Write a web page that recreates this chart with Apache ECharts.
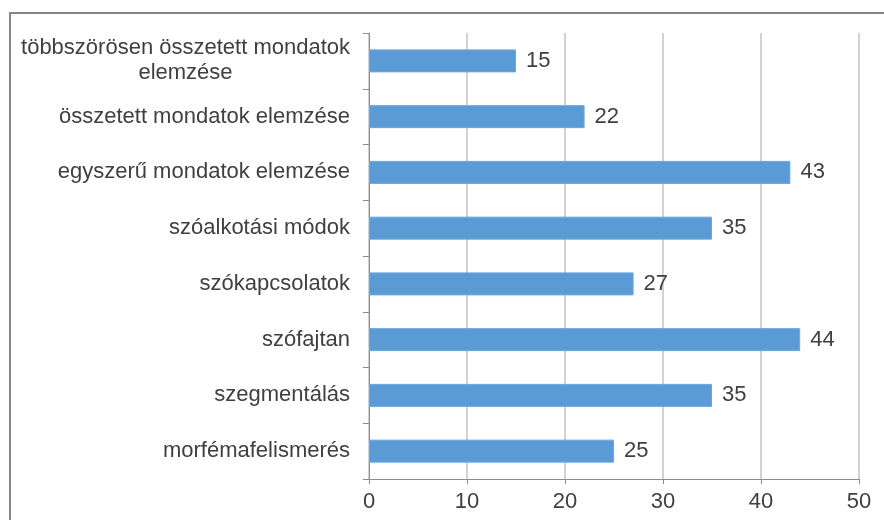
<!DOCTYPE html>
<html>
<head>
<meta charset="utf-8">
<script src="https://cdn.jsdelivr.net/npm/echarts@6/dist/echarts.min.js"></script>
<style>html,body{margin:0;padding:0;background:#fff;}#c{width:884px;height:520px;}</style>
</head>
<body>
<div id="c"></div>
<script>
// Categories bottom-to-top (ECharts category axis draws first item at bottom)
const categories = [
  "morfémafelismerés",
  "szegmentálás",
  "szófajtan",
  "szókapcsolatok",
  "szóalkotási módok",
  "egyszerű mondatok elemzése",
  "összetett mondatok elemzése",
  "többszörösen összetett mondatok\nelemzése"
];
const values = [25, 35, 44, 27, 35, 43, 22, 15];
const xTicks = [0, 10, 20, 30, 40, 50];

const chart = echarts.init(document.getElementById('c'), null, {renderer: 'canvas'});
const FONT = '"Liberation Sans", Arial, sans-serif';
chart.setOption({
  backgroundColor: '#ffffff',
  animation: false,
  graphic: [{
    type: 'rect',
    shape: {x: 10, y: 13, width: 900, height: 560},
    style: {fill: 'none', stroke: '#858585', lineWidth: 2},
    silent: true
  }],
  grid: {left: 369, right: 25, top: 33, bottom: 41, containLabel: false},
  xAxis: {
    type: 'value',
    min: xTicks[0],
    max: xTicks[xTicks.length - 1],
    interval: 10,
    axisLine: {show: true, lineStyle: {color: '#8c8c8c', width: 1}},
    axisTick: {show: true, length: 5, lineStyle: {color: '#8c8c8c'}},
    splitLine: {show: true, lineStyle: {color: '#c4c4c4', width: 1.5}},
    axisLabel: {margin: 12, fontSize: 22, color: '#404040', fontFamily: FONT}
  },
  yAxis: {
    type: 'category',
    data: categories,
    axisLine: {show: true, lineStyle: {color: '#8c8c8c', width: 1}},
    axisTick: {show: true, length: 6, alignWithLabel: false, lineStyle: {color: '#8c8c8c'}},
    axisLabel: {
      margin: 19,
      fontSize: 22,
      color: '#404040',
      fontFamily: FONT,
      lineHeight: 25,
      formatter: function (v) {
        return v.split('\n').map(function (s) { return '{c|' + s + '}'; }).join('\n');
      },
      rich: {c: {align: 'center', fontSize: 22, color: '#404040', fontFamily: FONT, lineHeight: 25}}
    }
  },
  series: [{
    type: 'bar',
    data: values,
    barWidth: 23,
    itemStyle: {color: '#5b9bd5', borderColor: '#6ea6da', borderWidth: 1},
    label: {
      show: true,
      position: 'right',
      distance: 10,
      fontSize: 22,
      color: '#404040',
      fontFamily: FONT
    }
  }]
});
</script>
</body>
</html>
